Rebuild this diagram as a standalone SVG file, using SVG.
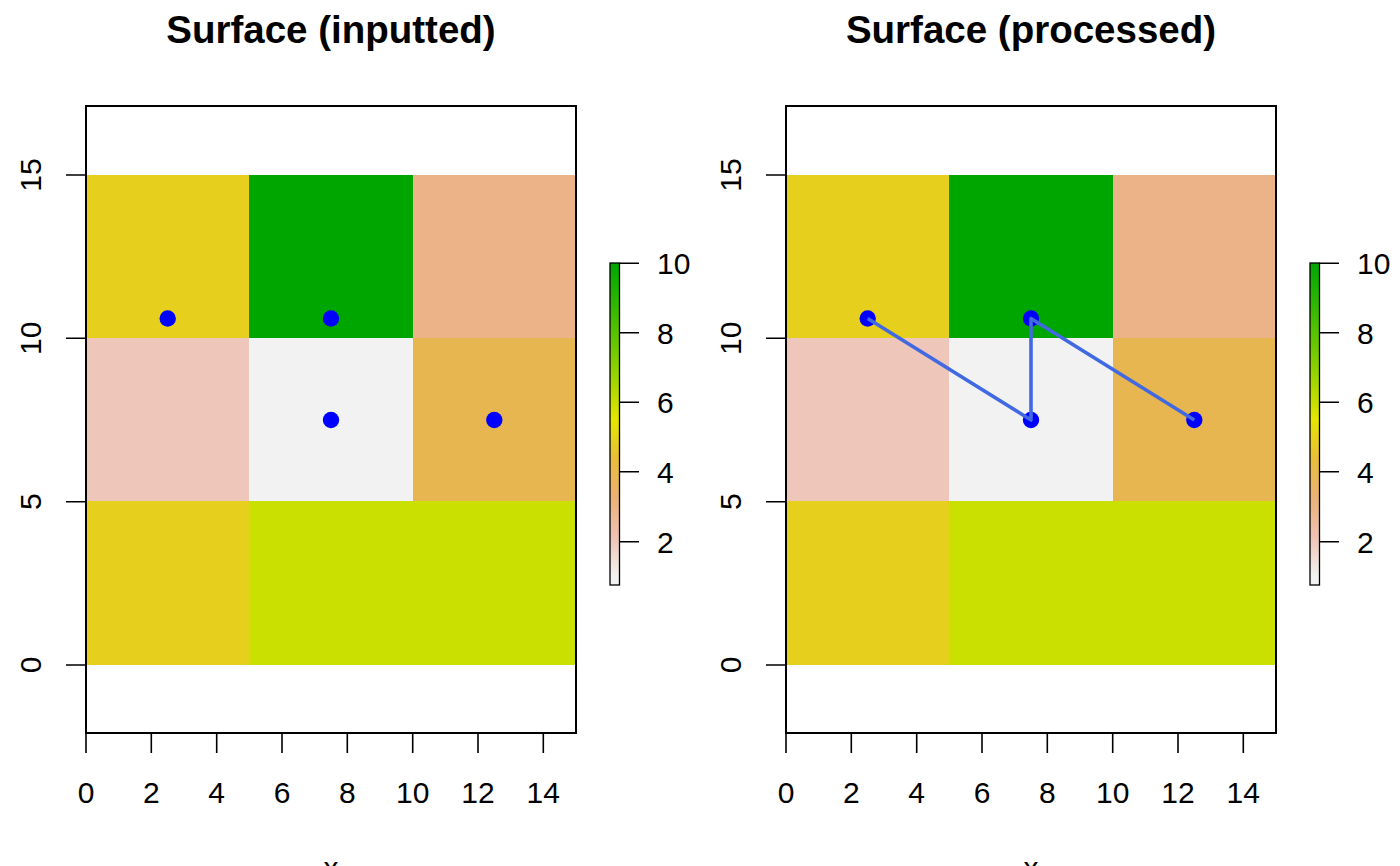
<svg xmlns="http://www.w3.org/2000/svg" width="1400" height="866" viewBox="0 0 1400 866">
<style>
text{font-family:"Liberation Sans",Arial,sans-serif;fill:#000}
.title{font-size:38.5px;font-weight:bold;text-anchor:middle}
.tl{font-size:30px;text-anchor:middle}
.cl{font-size:30px;text-anchor:start}
.box{fill:none;stroke:#000;stroke-width:2}
.tick{stroke:#000;stroke-width:1.6}
.pt{fill:#0000FF}
.path{fill:none;stroke:#4169E1;stroke-width:3.6;stroke-linejoin:round}
.bar{stroke:#000;stroke-width:1.3}
.cells rect{shape-rendering:crispEdges}
</style>
<defs>
<linearGradient id="pal" gradientUnits="userSpaceOnUse" x1="0" y1="263" x2="0" y2="576">
<stop offset="0" stop-color="#00A600"/>
<stop offset="0.125" stop-color="#2DB600"/>
<stop offset="0.25" stop-color="#63C600"/>
<stop offset="0.375" stop-color="#A0D600"/>
<stop offset="0.5" stop-color="#E6E600"/>
<stop offset="0.625" stop-color="#E9BD3A"/>
<stop offset="0.75" stop-color="#ECB176"/>
<stop offset="0.875" stop-color="#EFC2B3"/>
<stop offset="1" stop-color="#F2F2F2"/>
</linearGradient>
</defs>
<rect width="1400" height="866" fill="#fff"/>

<g id="plot-left">
<text class="title" x="331" y="43">Surface (inputted)</text>
<g id="cells-left" class="cells">
<rect x="86" y="174.7" width="163.3" height="163.3" fill="#E6D01D"/>
<rect x="249.3" y="174.7" width="163.4" height="163.3" fill="#00A600"/>
<rect x="412.7" y="174.7" width="163.3" height="163.3" fill="#ECB288"/>
<rect x="86" y="338" width="163.3" height="163.3" fill="#EEC7BA"/>
<rect x="249.3" y="338" width="163.4" height="163.3" fill="#F2F2F2"/>
<rect x="412.7" y="338" width="163.3" height="163.3" fill="#E8B650"/>
<rect x="86" y="501.3" width="163.3" height="163.4" fill="#E6D01D"/>
<rect x="249.3" y="501.3" width="326.7" height="163.4" fill="#C9E000"/>
</g>
<rect class="box" x="86" y="106" width="490" height="627"/>
<g id="xaxis-left">
<path class="tick" d="M86 733V753M151.3 733V753M216.7 733V753M282 733V753M347.3 733V753M412.7 733V753M478 733V753M543.3 733V753"/>
<text class="tl" x="86" y="803">0</text>
<text class="tl" x="151.3" y="803">2</text>
<text class="tl" x="216.7" y="803">4</text>
<text class="tl" x="282" y="803">6</text>
<text class="tl" x="347.3" y="803">8</text>
<text class="tl" x="412.7" y="803">10</text>
<text class="tl" x="478" y="803">12</text>
<text class="tl" x="543.3" y="803">14</text>
<text class="tl" x="331" y="878">x</text>
</g>
<g id="yaxis-left">
<path class="tick" d="M66 665H86M66 501.7H86M66 338.3H86M66 175H86"/>
<text class="tl" transform="translate(41 665) rotate(-90)">0</text>
<text class="tl" transform="translate(41 501.7) rotate(-90)">5</text>
<text class="tl" transform="translate(41 338.3) rotate(-90)">10</text>
<text class="tl" transform="translate(41 175) rotate(-90)">15</text>
</g>
<g id="points-left">
<circle class="pt" cx="167.7" cy="318.5" r="8.2"/>
<circle class="pt" cx="331" cy="318.5" r="8.2"/>
<circle class="pt" cx="331" cy="420" r="8.2"/>
<circle class="pt" cx="494.3" cy="420" r="8.2"/>
</g>
<g id="legend-left">
<rect x="610" y="263" width="9.5" height="322" fill="#F2F2F2"/>
<rect x="610" y="263" width="9.5" height="313" fill="url(#pal)"/>
<rect class="bar" x="610" y="263" width="9.5" height="322" fill="none"/>
<path class="tick" d="M619.5 263.3H639M619.5 332.7H639M619.5 402.3H639M619.5 471.7H639M619.5 541.7H639"/>
<text class="cl" x="657" y="274">10</text>
<text class="cl" x="657" y="343.5">8</text>
<text class="cl" x="657" y="413">6</text>
<text class="cl" x="657" y="482.5">4</text>
<text class="cl" x="657" y="552.5">2</text>
</g>
</g>

<g id="plot-right">
<text class="title" x="1031" y="43">Surface (processed)</text>
<g id="cells-right" class="cells">
<rect x="786" y="174.7" width="163.3" height="163.3" fill="#E6D01D"/>
<rect x="949.3" y="174.7" width="163.4" height="163.3" fill="#00A600"/>
<rect x="1112.7" y="174.7" width="163.3" height="163.3" fill="#ECB288"/>
<rect x="786" y="338" width="163.3" height="163.3" fill="#EEC7BA"/>
<rect x="949.3" y="338" width="163.4" height="163.3" fill="#F2F2F2"/>
<rect x="1112.7" y="338" width="163.3" height="163.3" fill="#E8B650"/>
<rect x="786" y="501.3" width="163.3" height="163.4" fill="#E6D01D"/>
<rect x="949.3" y="501.3" width="326.7" height="163.4" fill="#C9E000"/>
</g>
<rect class="box" x="786" y="106" width="490" height="627"/>
<g id="xaxis-right">
<path class="tick" d="M786 733V753M851.3 733V753M916.7 733V753M982 733V753M1047.3 733V753M1112.7 733V753M1178 733V753M1243.3 733V753"/>
<text class="tl" x="786" y="803">0</text>
<text class="tl" x="851.3" y="803">2</text>
<text class="tl" x="916.7" y="803">4</text>
<text class="tl" x="982" y="803">6</text>
<text class="tl" x="1047.3" y="803">8</text>
<text class="tl" x="1112.7" y="803">10</text>
<text class="tl" x="1178" y="803">12</text>
<text class="tl" x="1243.3" y="803">14</text>
<text class="tl" x="1031" y="878">x</text>
</g>
<g id="yaxis-right">
<path class="tick" d="M766 665H786M766 501.7H786M766 338.3H786M766 175H786"/>
<text class="tl" transform="translate(741 665) rotate(-90)">0</text>
<text class="tl" transform="translate(741 501.7) rotate(-90)">5</text>
<text class="tl" transform="translate(741 338.3) rotate(-90)">10</text>
<text class="tl" transform="translate(741 175) rotate(-90)">15</text>
</g>
<g id="points-right">
<circle class="pt" cx="867.7" cy="318.5" r="8.2"/>
<circle class="pt" cx="1031" cy="318.5" r="8.2"/>
<circle class="pt" cx="1031" cy="420" r="8.2"/>
<circle class="pt" cx="1194.3" cy="420" r="8.2"/>
</g>
<g id="connectors">
<polyline class="path" points="867.7,318.5 1031,420 1031,318.5 1194.3,420"/>
</g>
<g id="legend-right">
<rect x="1310" y="263" width="9.5" height="322" fill="#F2F2F2"/>
<rect x="1310" y="263" width="9.5" height="313" fill="url(#pal)"/>
<rect class="bar" x="1310" y="263" width="9.5" height="322" fill="none"/>
<path class="tick" d="M1319.5 263.3H1339M1319.5 332.7H1339M1319.5 402.3H1339M1319.5 471.7H1339M1319.5 541.7H1339"/>
<text class="cl" x="1357" y="274">10</text>
<text class="cl" x="1357" y="343.5">8</text>
<text class="cl" x="1357" y="413">6</text>
<text class="cl" x="1357" y="482.5">4</text>
<text class="cl" x="1357" y="552.5">2</text>
</g>
</g>
</svg>
